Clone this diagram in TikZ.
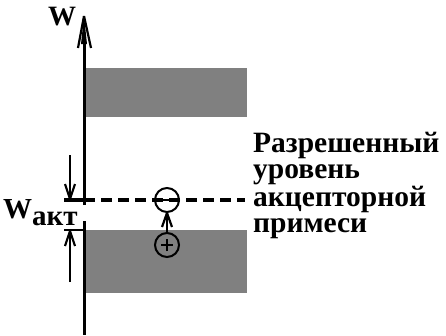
\documentclass[tikz,border=0pt]{standalone}
\usepackage{fontspec}
\setmainfont{Liberation Serif}
\begin{document}
\begin{tikzpicture}[x=1pt,y=-1pt,
  band/.style={fill=black!50,draw=none},
  axisline/.style={line width=3pt},
  thin/.style={line width=2.2pt},
  barb/.style={line width=2.2pt},
  charge/.style={circle,draw,line width=2pt,minimum size=24pt,inner sep=0pt,fill=none},
  lbl/.style={font=\fontsize{29.5}{26}\bfseries\selectfont,align=left,anchor=base west,inner sep=0pt}]
\useasboundingbox (0,0) rectangle (446,335);
% bands
\path[band] (86,68) rectangle (247,117);
\path[band] (86,230) rectangle (247,293);
% axis
\coordinate (axtop) at (84,16);
\coordinate (axgapA) at (84,205);
\coordinate (axgapB) at (84,221);
\coordinate (axbot) at (84,335);
\draw[axisline] (axgapA) -- (84,40);
\draw[axisline] (axgapB) -- (axbot);
\fill (axtop) -- (81,44) -- (87,44) -- cycle;
\draw[barb] (axtop) -- (78,48);
\draw[barb] (axtop) -- (91,48);
\node[font=\fontsize{28}{30}\bfseries\selectfont,inner sep=0pt,anchor=base] (W) at (62,25) {W};
% level dashed
\coordinate (lvlL) at (64,200);
\coordinate (lvlA) at (84,200);
\coordinate (lvlR) at (245,200);
\draw[line width=4pt] (lvlL) -- (lvlA);
\draw[line width=4pt,dash pattern=on 11pt off 6pt] (lvlA) -- (lvlR);
% lower tick
\coordinate (vbL) at (64,230);
\coordinate (vbA) at (84,230);
\draw[thin] (vbL) -- (vbA);
% down arrow
\coordinate (dtop) at (70,155);
\coordinate (dtip) at (70,199);
\draw[thin] (dtop) -- (dtip);
\draw[barb] (dtip) -- (65,184);
\draw[barb] (dtip) -- (75,184);
% up arrow
\coordinate (ubot) at (70,282);
\coordinate (utip) at (70,231);
\draw[thin] (ubot) -- (utip);
\draw[barb] (utip) -- (65,246);
\draw[barb] (utip) -- (75,246);
% W_akt
\node[font=\fontsize{29}{31}\bfseries\selectfont,inner sep=0pt,anchor=base west] (Wakt) at (3,218) {W\raisebox{-7pt}{акт}};
% charges
\node[charge] (minus) at (167,200) {};
\node[charge] (plus) at (167,245) {};
\draw[line width=2.5pt] ([xshift=-6pt]minus.center) -- ([xshift=6pt]minus.center);
\draw[line width=2.5pt] ([xshift=-6pt]plus.center) -- ([xshift=6pt]plus.center);
\draw[line width=2.5pt] ([yshift=-6pt]plus.center) -- ([yshift=6pt]plus.center);
\draw[thin] (plus.north) -- (minus.south);
\draw[barb] (minus.south) -- ++(-5,14);
\draw[barb] (minus.south) -- ++(5,14);
% text
\node[lbl] (txt) at (253,232) {Разрешенный\\уровень\\акцепторной\\примеси};
\end{tikzpicture}
\end{document}
